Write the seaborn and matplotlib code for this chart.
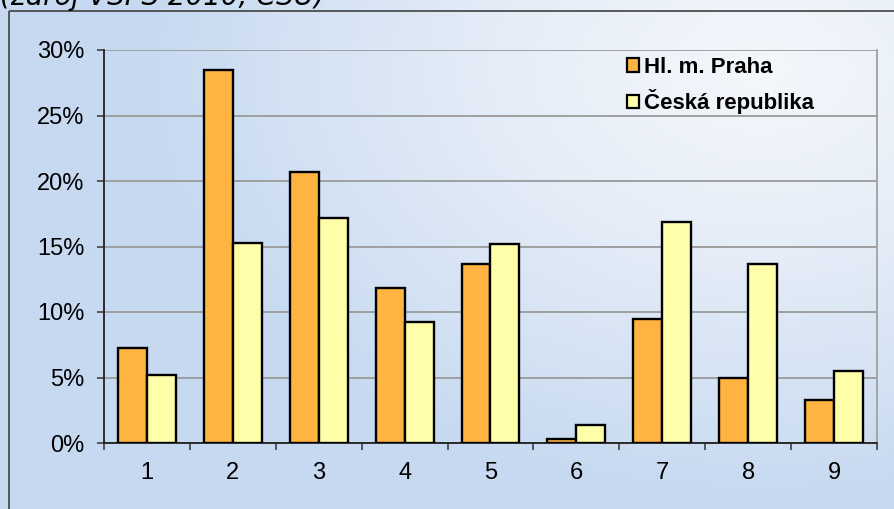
import numpy as np
import pandas as pd
import matplotlib
matplotlib.use("Agg")
import matplotlib.pyplot as plt
from matplotlib.patches import Rectangle, Patch
import seaborn as sns

categories = ["1", "2", "3", "4", "5", "6", "7", "8", "9"]
praha = [7.25, 28.5, 20.7, 11.8, 13.7, 0.3, 9.5, 5.0, 3.3]
cr = [5.2, 15.3, 17.2, 9.2, 15.2, 1.4, 16.9, 13.7, 5.5]
series_names = ["Hl. m. Praha", "Česká republika"]
yticks = [0, 5, 10, 15, 20, 25, 30]
title_text = "(zdroj VŠPS 2010, ČSÚ)"

df = pd.DataFrame({
    "cat": categories * 2,
    "val": praha + cr,
    "series": [series_names[0]] * len(categories) + [series_names[1]] * len(categories),
})

sns.set_theme(style="white")
plt.rcParams["font.family"] = ["Liberation Sans", "DejaVu Sans"]
plt.rcParams["text.color"] = "black"
plt.rcParams["xtick.color"] = "black"
plt.rcParams["ytick.color"] = "black"

W, H = 895, 509
fig = plt.figure(figsize=(W / 100, H / 100), dpi=100)

# background gradient
bg = fig.add_axes([0, 0, 1, 1], zorder=-10)
yy, xx = np.mgrid[0:H, 0:W]
d = np.sqrt(((xx - 760) / 620.0) ** 2 + ((yy - 70) / 430.0) ** 2)
t = np.clip(d, 0, 1) ** 1.3
c_in = np.array([243, 246, 251]) / 255.0
c_out = np.array([198, 217, 240]) / 255.0
img = c_in[None, None, :] * (1 - t[..., None]) + c_out[None, None, :] * t[..., None]
bg.imshow(img, extent=[0, W, H, 0], aspect="auto")
bg.set_xlim(0, W)
bg.set_ylim(H, 0)
bg.axis("off")
bg.add_patch(Rectangle((9, 11), W + 20, H + 20, fill=False, edgecolor="#404040", linewidth=1.2))
bg.text(0, 5, title_text, fontsize=20, style="italic", family="DejaVu Sans",
        ha="left", va="baseline", color="black")

left, right, top, bottom = 104, 877, 50, 443
ax = fig.add_axes([left / W, 1 - bottom / H, (right - left) / W, (bottom - top) / H])
ax.set_facecolor("none")

sns.barplot(data=df, x="cat", y="val", hue="series", order=categories,
            hue_order=series_names, palette=["#FFB340", "#FFFFAA"], saturation=1,
            width=0.675, edgecolor="black", linewidth=1.7, ax=ax, legend=False,
            zorder=3)

ax.set_xlim(-0.5, len(categories) - 0.5)
ax.set_ylim(0, 30)
ax.set_yticks(yticks)
ax.set_yticklabels([f"{v}%" for v in yticks], fontsize=17)
ax.set_xticks(np.arange(-0.5, len(categories), 1.0))
ax.set_xticklabels([])
ax.set_xticks(np.arange(len(categories)), minor=True)
ax.set_xticklabels(categories, minor=True, fontsize=17)
ax.tick_params(axis="x", which="major", length=5, width=1.2, color="#404040", direction="out", bottom=True)
ax.tick_params(axis="x", which="minor", length=0, pad=14)
ax.tick_params(axis="y", length=5, width=1.2, color="#404040", direction="out", left=True, pad=9)
ax.set_xlabel("")
ax.set_ylabel("")
ax.yaxis.grid(True, color="#9a9a9a", linewidth=1.3, zorder=0)
ax.set_axisbelow(True)
for s in ["left", "bottom"]:
    ax.spines[s].set_color("#202020")
    ax.spines[s].set_linewidth(1.3)
ax.spines["right"].set_color("#a0a0a0")
ax.spines["right"].set_linewidth(1.3)
ax.spines["top"].set_visible(False)

handles = [Patch(facecolor="#FFB340", edgecolor="black", linewidth=1.6),
           Patch(facecolor="#FFFFAA", edgecolor="black", linewidth=1.6)]
leg = fig.legend(handles, series_names, loc="upper left",
                 bbox_to_anchor=(627 / W, 1 - 57 / H), frameon=False,
                 prop={"weight": "bold", "size": 16},
                 handlelength=0.55, handleheight=0.55, handletextpad=0.2,
                 labelspacing=0.5, borderaxespad=0, borderpad=0)

fig.savefig("out.png", dpi=100)
